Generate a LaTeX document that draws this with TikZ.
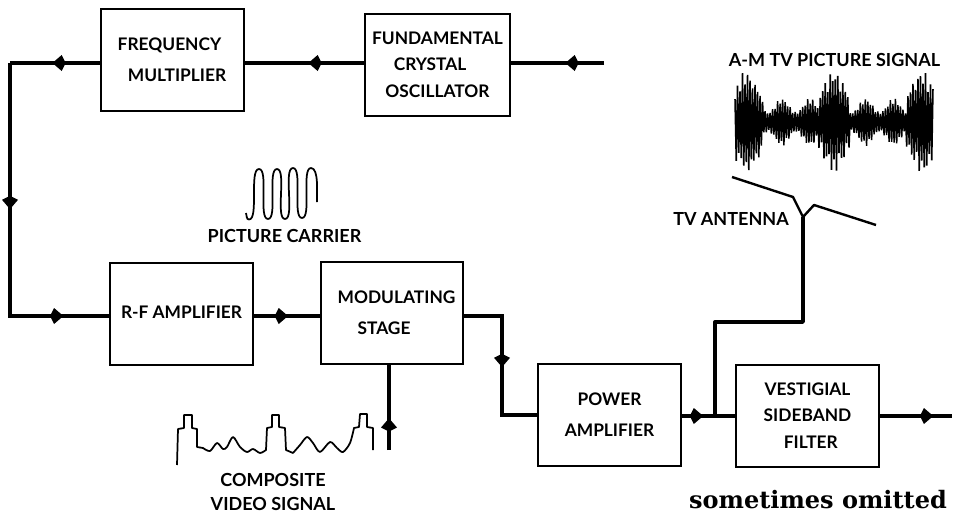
\documentclass[tikz,border=0pt]{standalone}
\usepackage{fontspec}
\setsansfont{Lato}
\newfontfamily\slabfont{DejaVu Serif}
\usetikzlibrary{arrows.meta,calc,decorations.markings}

\begin{document}
\begin{tikzpicture}[
  x=0.75pt,y=-0.75pt,
  box/.style={draw,line width=1.5pt,minimum width=107pt,minimum height=76.5pt,inner sep=0pt,
    align=center,font=\fontsize{13}{#1}\selectfont\sffamily\bfseries},
  box/.default=23,
  wire/.style={line width=2.5pt},
  bus/.style={line width=3pt},
  flowat/.style={postaction={decorate,decoration={markings,
      mark=at position #1 with {\arrow{Kite[length=10pt,width=12pt,inset=3pt]}}}}},
  note/.style={font=\fontsize{13.5}{18}\selectfont\sffamily\bfseries,align=center,inner sep=0pt},
  trace/.style={line width=1.3pt,line join=round},
  declare function={
    ripple(\x)=17+7*sin((\x-775)*12.9);
    burst(\d)=abs(\d)<5 ? 49 : (abs(\d)<12 ? 39 : (abs(\d)<16 ? 26 : 0));
    envelope(\x)=max(ripple(\x),burst(\x-747),burst(\x-834),burst(\x-922));
    jitter(\x)=0.88+0.12*sin((\x-735)*61);
    zigzag(\x)=2*mod(round((\x-735)/1.25),2)-1;
  }
]
  \useasboundingbox (0,0) rectangle (958,514);

  % Blocks, top row, middle row, bottom row.
  \node[box] (mult) at (172.5,60) {\hspace*{-4.5pt}FREQUENCY\\\hspace*{6.75pt}MULTIPLIER};
  \node[box=20,minimum width=108.75pt] (osc) at (437.5,64.5) {FUNDAMENTAL\\\hspace*{-11pt}CRYSTAL\\OSCILLATOR};
  \node[box] (rfamp) at (181.5,314) {\raisebox{2pt}{R-F AMPLIFIER}};
  \node[box] (modul) at (392,313) {\hspace*{6.8pt}MODULATING\\\hspace*{-12pt}STAGE};
  \node[box,minimum width=107.25pt] (power) at (609.5,414.5) {POWER\\AMPLIFIER};
  \node[box=20,minimum width=107.25pt] (vsb) at (807.5,415.5) {VESTIGIAL\\SIDEBAND\\\hspace*{5pt}FILTER};

  % Free ends and corners of the wires.
  \coordinate (input) at (604,63);
  \coordinate (corner) at (10,63);
  \coordinate (rfline) at (10,316);
  \coordinate (modbend) at (502,316);
  \coordinate (powline) at (502,415);
  \coordinate (videoin) at (389,450);
  \coordinate (output) at (952,416);
  \coordinate (tap) at (715,416);
  \coordinate (antbend) at (715,322);
  \coordinate (antfeed) at (803,322);
  \coordinate (antroot) at (803,217);

  % Carrier chain.
  \draw[wire,flowat=0.415] (input) -- (input -| osc.east);
  \draw[wire,flowat=0.467] (input -| osc.west) -- (input -| mult.east);
  \draw[wire,flowat=0.53] (input -| mult.west) -- (corner);
  \draw[bus,flowat=0.415,flowat=0.87] (corner) -- (rfline) -- (rfline -| rfamp.west);
  \draw[wire,flowat=0.52] (rfline -| rfamp.east) -- (rfline -| modul.west);
  \draw[wire,flowat=0.517] (modbend -| modul.east) -- (modbend) -- (powline) -- (powline -| power.west);
  \draw[wire,flowat=0.40] (tap -| power.east) -- (tap -| vsb.west);
  \draw[wire,flowat=0.74] (tap -| vsb.east) -- (output);
  \draw[wire,flowat=0.374] (videoin) -- (videoin |- modul.south);
  \draw[wire,line join=round] (tap) -- (antbend) -- (antfeed) -- (antroot);

  % Antenna.
  \draw[wire,line width=1.8pt,line join=round] (732,177) -- (793,197) -- (antroot) -- (814,205) -- (876,225);

  % Waveforms.
  \draw[trace,looseness=0.5] (246,213) to[out=-70,in=180,looseness=1] (249,219.5)
    to[out=0,in=180] (259,169) to[out=0,in=180] (268,219) to[out=0,in=180] (277,169)
    to[out=0,in=180] (285,219) to[out=0,in=180] (293,168) to[out=0,in=180] (302,218)
    to[out=0,in=180] (311,168) to[out=0,in=92,looseness=0.6] (317,202);
  \draw[trace] (177,465) -- (178,429) -- (184,428) -- (184,415) -- (192,415) -- (192,428) -- (197,429) -- (197,447)
    -- plot[smooth] coordinates {(203,448) (210,451) (217,443) (223,449) (227,447) (233,437) (240,447) (247,452) (253,449) (260,453) (266,450)}
    -- (267,428) -- (272,427) -- (272,415) -- (279,415) -- (279,427) -- (285,428) -- (286,450)
    -- plot[smooth] coordinates {(293,453) (300,445) (307,437) (313,443) (320,452) (330,442) (337,448) (343,452) (350,443) (354,428)}
    -- (359,427) -- (360,414) -- (367,414) -- (367,427) -- (373,428) -- (373,450);
  \draw[line width=1.15pt,line join=bevel] plot[domain=735:933,samples=159] (\x,{122+envelope(\x)*jitter(\x)*zigzag(\x)});

  % Labels.
  \node[note] (carrier) at (284.5,236) {PICTURE CARRIER};
  \node[note] (video) at (273,492) {COMPOSITE\\VIDEO SIGNAL};
  \node[note] (amsignal) at (834.5,60) {A-M TV PICTURE SIGNAL};
  \node[note] (antenna) at (731,219) {TV ANTENNA};
  \node[font=\slabfont\bfseries\fontsize{18}{22}\selectfont,inner sep=0pt,anchor=base] (omitted) at (818,508) {sometimes omitted};
\end{tikzpicture}
\end{document}
